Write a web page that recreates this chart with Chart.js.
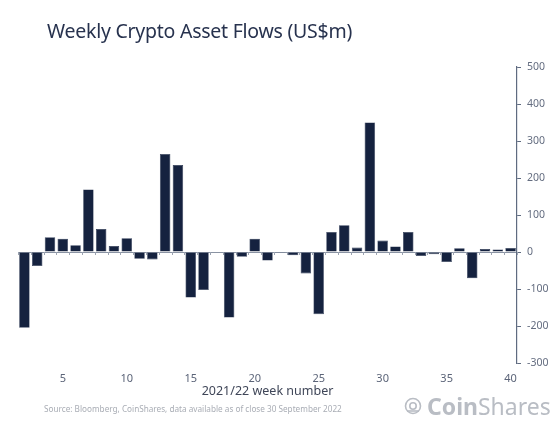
<!DOCTYPE html>
<html>
<head>
<meta charset="utf-8">
<script src="https://cdn.jsdelivr.net/npm/chart.js@4"></script>
<style>
  html, body { margin: 0; padding: 0; background: #fff; }
  #wrap { position: relative; width: 560px; height: 424px; overflow: hidden; }
  #c { position: absolute; left: 0; top: 0; }
  .title { position: absolute; left: 47px; top: 17px; font-family: "Noto Sans", sans-serif; font-size: 19.5px; color: #27324e; white-space: nowrap; letter-spacing: -0.25px; }
  .source { position: absolute; left: 44px; top: 403px; font-family: "Noto Sans", sans-serif; font-size: 8.2px; color: #a9adb5; white-space: nowrap; }
  .logo { position: absolute; left: 404px; top: 390px; font-family: "Noto Sans", sans-serif; font-size: 23px; color: #b9bdc4; white-space: nowrap; display: flex; align-items: center; }
  .logo b { font-weight: 700; }
  .logo svg { margin-right: 5px; }
</style>
</head>
<body>
<div id="wrap">
  <canvas id="c" width="560" height="424"></canvas>
  <div class="title">Weekly Crypto Asset Flows (US$m)</div>
  <div class="source">Source: Bloomberg, CoinShares, data available as of close 30 September 2022</div>
  <div class="logo"><svg width="18" height="18" viewBox="0 0 18 18"><circle cx="9" cy="9" r="7.5" fill="none" stroke="#b9bdc4" stroke-width="1.6"/><circle cx="9" cy="9" r="3.2" fill="none" stroke="#b9bdc4" stroke-width="1.6"/><path d="M3 14 L15 14" stroke="#b9bdc4" stroke-width="1.6"/></svg><span><b>Coin</b>Shares</span></div>
</div>
<script>
const weeks = [2,3,4,5,6,7,8,9,10,11,12,13,14,15,16,17,18,19,20,21,22,23,24,25,26,27,28,29,30,31,32,33,34,35,36,37,38,39,40];
const flows = [-205,-38,40,36,18,169,62,16,37,-18,-20,265,235,-123,-103,0,-177,-13,36,-23,-2,-9,-58,-168,54,72,12,350,31,15,54,-11,-6,-27,10,-71,8,7,11];
const yTicks = [-300,-200,-100,0,100,200,300,400,500];
const xAxisTitle = '2021/22 week number';

const tickColor = '#5b6478';
const axisColor = '#5f6b80';

// small category tick marks hanging below the zero line
const zeroTicks = {
  id: 'zeroTicks',
  beforeDatasetsDraw(chart) {
    const x = chart.scales.x, y = chart.scales.y, ctx = chart.ctx;
    const y0 = y.getPixelForValue(0);
    ctx.save();
    ctx.strokeStyle = '#9aa2b0';
    ctx.lineWidth = 1;
    ctx.beginPath();
    for (let i = 0; i <= weeks.length; i++) {
      const px = Math.round(x.getPixelForValue(i - 0.5)) + 0.5;
      ctx.moveTo(px, y0);
      ctx.lineTo(px, y0 + 3);
    }
    ctx.stroke();
    ctx.restore();
  }
};

new Chart(document.getElementById('c'), {
  type: 'bar',
  data: {
    labels: weeks.map(String),
    datasets: [{
      data: flows,
      backgroundColor: '#15223f',
      borderColor: '#2a3652',
      borderWidth: 0.6,
      categoryPercentage: 1.0,
      barPercentage: 0.82,
      yAxisID: 'y'
    }]
  },
  plugins: [zeroTicks],
  options: {
    responsive: false,
    animation: false,
    devicePixelRatio: 1,
    layout: { padding: { left: 18, right: 0, top: 67, bottom: 21 } },
    plugins: { legend: { display: false }, tooltip: { enabled: false }, title: { display: false } },
    scales: {
      x: {
        position: 'bottom',
        grid: { display: false },
        border: { display: false },
        ticks: {
          autoSkip: false,
          maxRotation: 0,
          padding: 1,
          color: tickColor,
          font: { family: 'Noto Sans', size: 11 },
          callback: function(v, i) { const w = weeks[i]; return w % 5 === 0 ? String(w) : ''; }
        },
        title: { display: true, text: xAxisTitle, color: '#3f4658', font: { family: 'Noto Sans', size: 12.5 }, padding: { top: 0, bottom: 4 } },
        afterFit: function(s) { s.height = 40; }
      },
      y: {
        position: 'right',
        min: -300, max: 500,
        afterBuildTicks: function(s) { s.ticks = yTicks.map(v => ({ value: v })); },
        grid: { drawOnChartArea: false, drawTicks: true, tickLength: 4, color: axisColor, lineWidth: 1 },
        border: { display: true, color: axisColor, width: 1.2 },
        ticks: { color: '#646d80', padding: 6, font: { family: 'Noto Sans', size: 10.5 } },
        afterFit: function(s) { s.width = 43; }
      },
      y2: {
        position: 'left',
        min: -300, max: 500,
        afterBuildTicks: function(s) { s.ticks = yTicks.map(v => ({ value: v })); },
        grid: {
          drawTicks: false,
          color: function(ctx) { return ctx.tick && ctx.tick.value === 0 ? '#8a93a3' : 'rgba(0,0,0,0)'; },
          lineWidth: 1
        },
        border: { display: false },
        ticks: { display: false }
      }
    }
  }
});
</script>
</body>
</html>
